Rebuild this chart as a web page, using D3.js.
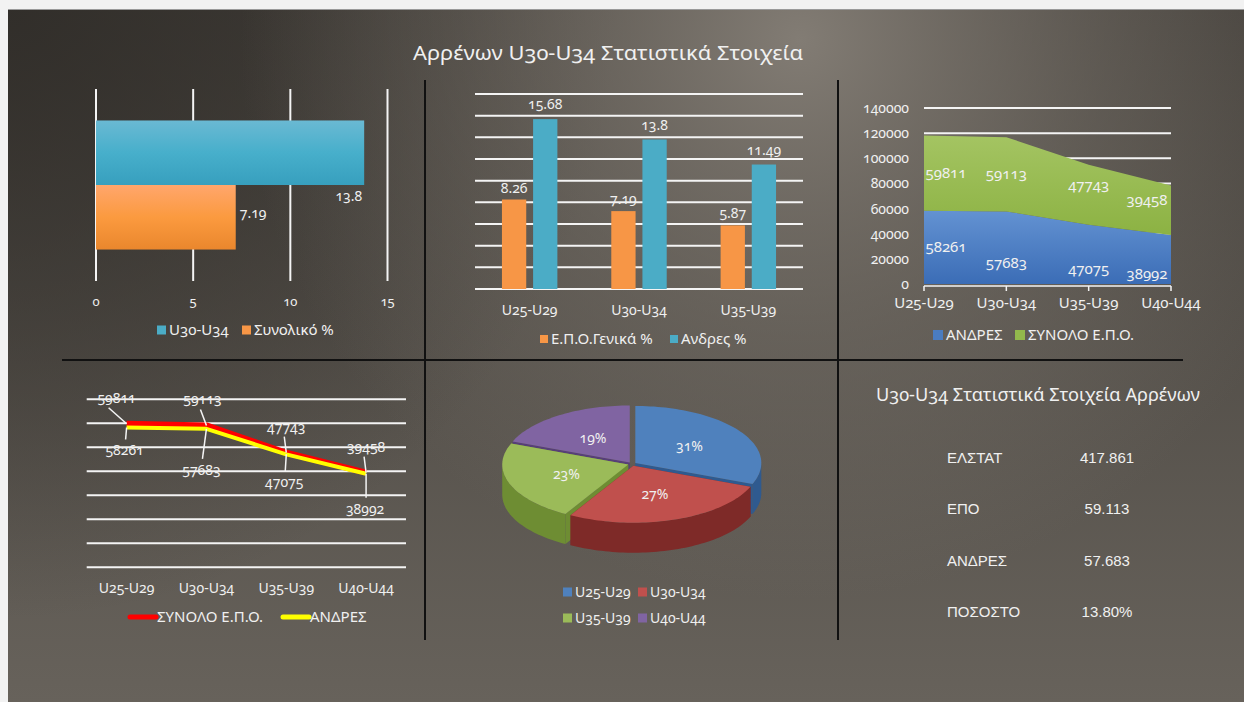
<!DOCTYPE html>
<html><head><meta charset="utf-8">
<script src="https://cdn.jsdelivr.net/npm/d3@7"></script>
<style>
body{margin:0;background:#f2f2f2;}
svg{display:block;}
text{font-family:"Noto Sans",sans-serif;fill:#f0f0f0;font-feature-settings:"onum" 1;}
text.tbl{font-family:"Liberation Sans",Arial,sans-serif;font-feature-settings:normal;}
</style></head><body><svg id="c" width="1244" height="702"></svg>
<script>
// ---------- DATA ----------
const mainTitle = "Αρρένων U30-U34 Στατιστικά Στοιχεία";
// chart 1 (horizontal bars)
const c1Series = ["U30-U34", "Συνολικό %"];
const c1Values = [13.8, 7.19];
const c1Ticks = [0, 5, 10, 15];
// chart 2 (clustered columns)
const c2Categories = ["U25-U29", "U30-U34", "U35-U39"];
const c2Series = ["Ε.Π.Ο.Γενικά %", "Ανδρες %"];
const c2Epo = [8.26, 7.19, 5.87];
const c2Andres = [15.68, 13.8, 11.49];
// charts 3 & 4
const ageGroups = ["U25-U29", "U30-U34", "U35-U39", "U40-U44"];
const andres = [58261, 57683, 47075, 38992];
const synolo = [59811, 59113, 47743, 39458];
const c3Ticks = [0, 20000, 40000, 60000, 80000, 100000, 120000, 140000];
const c4Ticks = [0, 10000, 20000, 30000, 40000, 50000, 60000, 70000];
// chart 5 (pie)
const pieValues = [15.68, 13.8, 11.49, 9.6];
// table
const tblTitle = "U30-U34 Στατιστικά Στοιχεία Αρρένων";
const tblLabels = ["ΕΛΣΤΑΤ", "ΕΠΟ", "ΑΝΔΡΕΣ", "ΠΟΣΟΣΤΟ"];
const tblValues = ["417.861", "59.113", "57.683", "13.80%"];

// ---------- SETUP ----------
const svg = d3.select("#c");
const defs = svg.append("defs");
function lin(id, stops, x2 = 0, y2 = 1) {
  const g = defs.append("linearGradient").attr("id", id).attr("x1", 0).attr("y1", 0).attr("x2", x2).attr("y2", y2);
  stops.forEach(([o, c, op]) => g.append("stop").attr("offset", o).attr("stop-color", c).attr("stop-opacity", op == null ? 1 : op));
}
function rad(id, cx, cy, r, stops) {
  const g = defs.append("radialGradient").attr("id", id).attr("gradientUnits", "userSpaceOnUse")
    .attr("cx", cx).attr("cy", cy).attr("r", r);
  stops.forEach(([o, c, op]) => g.append("stop").attr("offset", o).attr("stop-color", c).attr("stop-opacity", op == null ? 1 : op));
}
lin("bgLin", [[0, "#433f3a"], [1, "#67625b"]]);
rad("bgHi", 800, 40, 560, [[0, "#827c74", 1], [0.55, "#7a746c", 0.45], [1, "#7a746c", 0]]);
rad("bgDark", 0, 0, 620, [[0, "#2f2c28", 0.9], [1, "#2f2c28", 0]]);
lin("barBlue", [[0, "#6ab9d3"], [0.5, "#47afcb"], [1, "#379fbe"]]);
lin("barOrange", [[0, "#ffa66c"], [0.5, "#fb9a3f"], [1, "#ea872d"]]);
lin("areaBlue", [[0, "#6392d2"], [1, "#3b6db6"]]);
lin("areaGreen", [[0, "#a4c462"], [1, "#8cb243"]]);

svg.append("rect").attr("x", 8).attr("y", 9).attr("width", 1236).attr("height", 693).attr("fill", "url(#bgLin)");
svg.append("rect").attr("x", 8).attr("y", 9).attr("width", 1236).attr("height", 693).attr("fill", "url(#bgDark)");
svg.append("rect").attr("x", 8).attr("y", 9).attr("width", 1236).attr("height", 693).attr("fill", "url(#bgHi)");
svg.append("line").attr("x1", 8).attr("x2", 1244).attr("y1", 9.5).attr("y2", 9.5).attr("stroke", "#9a9a9a").attr("stroke-width", 1);

// main title
svg.append("text").attr("x", 608).attr("y", 60).attr("text-anchor", "middle")
  .attr("font-size", 20).attr("textLength", 390).attr("lengthAdjust", "spacingAndGlyphs").text(mainTitle);

// dividers
svg.append("line").attr("x1", 425).attr("x2", 425).attr("y1", 80).attr("y2", 640).attr("stroke", "#111").attr("stroke-width", 2);
svg.append("line").attr("x1", 838).attr("x2", 838).attr("y1", 80).attr("y2", 640).attr("stroke", "#111").attr("stroke-width", 2);
svg.append("line").attr("x1", 62).attr("x2", 1183).attr("y1", 360).attr("y2", 360).attr("stroke", "#111").attr("stroke-width", 2);

const grid = "#f4f4f4";
function legendSquare(g, x, y, color, label, size = 9, fs = 15) {
  g.append("rect").attr("x", x).attr("y", y - size / 2).attr("width", size).attr("height", size).attr("fill", color);
  g.append("text").attr("x", x + size + 3).attr("y", y + fs * 0.36).attr("font-size", fs).text(label);
}

// ---------- CHART 1 ----------
{
  const g = svg.append("g");
  const x = d3.scaleLinear().domain([0, 15]).range([96, 387.5]);
  const yOuter = d3.scaleBand().domain(["c"]).range([89, 281]).padding(0.196);
  const y = d3.scaleBand().domain(c1Series).range([yOuter("c"), yOuter("c") + yOuter.bandwidth()]);
  g.selectAll(".gl").data(c1Ticks).join("line").attr("x1", d => x(d)).attr("x2", d => x(d))
    .attr("y1", 89).attr("y2", 281).attr("stroke", grid).attr("stroke-width", 2);
  const fills = ["url(#barBlue)", "url(#barOrange)"];
  g.selectAll(".bar").data(c1Values).join("rect").attr("x", x(0)).attr("y", (d, i) => y(c1Series[i]))
    .attr("width", d => x(d) - x(0)).attr("height", y.bandwidth()).attr("fill", (d, i) => fills[i]);
  g.append("text").attr("x", x(c1Values[0]) - 2).attr("y", y(c1Series[0]) + y.bandwidth() + 16)
    .attr("text-anchor", "end").attr("font-size", 14).text(c1Values[0]);
  g.append("text").attr("x", x(c1Values[1]) + 4).attr("y", y(c1Series[1]) + y.bandwidth() / 2 + 1)
    .attr("font-size", 14).text(c1Values[1]);
  g.selectAll(".tk").data(c1Ticks).join("text").attr("x", d => x(d)).attr("y", 306).attr("text-anchor", "middle")
    .attr("font-size", 13).text(d => d);
  legendSquare(g, 157, 330, "#4bacc6", c1Series[0]);
  legendSquare(g, 242, 330, "#f79646", c1Series[1]);
}

// ---------- CHART 2 ----------
{
  const g = svg.append("g");
  const x0 = d3.scaleBand().domain(c2Categories).range([475, 803]).paddingInner(0.493).paddingOuter(0.2465);
  const x1 = d3.scaleBand().domain(c2Series).range([0, x0.bandwidth()]).paddingInner(0.22);
  const y = d3.scaleLinear().domain([0, 18]).range([289, 94]);
  g.selectAll(".gl").data(d3.range(0, 19, 2)).join("line").attr("x1", 475).attr("x2", 803)
    .attr("y1", d => y(d)).attr("y2", d => y(d)).attr("stroke", grid).attr("stroke-width", 2);
  const series = [c2Epo, c2Andres];
  const cols = ["#f79646", "#4bacc6"];
  series.forEach((vals, s) => {
    g.selectAll(".b" + s).data(vals).join("rect")
      .attr("x", (d, i) => x0(c2Categories[i]) + x1(c2Series[s])).attr("y", d => y(d))
      .attr("width", x1.bandwidth()).attr("height", d => y(0) - y(d)).attr("fill", cols[s]);
    g.selectAll(".l" + s).data(vals).join("text")
      .attr("x", (d, i) => x0(c2Categories[i]) + x1(c2Series[s]) + x1.bandwidth() / 2)
      .attr("y", d => y(d) - (s === 0 ? 7 : 10)).attr("text-anchor", "middle").attr("font-size", 14).text(d => d);
  });
  g.selectAll(".cat").data(c2Categories).join("text").attr("x", d => x0(d) + x0.bandwidth() / 2)
    .attr("y", 315).attr("text-anchor", "middle").attr("font-size", 14).text(d => d);
  legendSquare(g, 540, 339, cols[0], c2Series[0], 8);
  legendSquare(g, 670, 339, cols[1], c2Series[1], 8);
}

// ---------- CHART 3 ----------
{
  const g = svg.append("g");
  const x = d3.scalePoint().domain(ageGroups).range([924, 1171]);
  const y = d3.scaleLinear().domain([0, 140000]).range([284, 108]);
  g.selectAll(".gl").data(c3Ticks.slice(1)).join("line").attr("x1", 924).attr("x2", 1171)
    .attr("y1", d => y(d)).attr("y2", d => y(d)).attr("stroke", grid).attr("stroke-width", 2);
  const rows = ageGroups.map((k, i) => ({ k, andres: andres[i], synolo: synolo[i] }));
  const stack = d3.stack().keys(["andres", "synolo"])(rows);
  const area = d3.area().x(d => x(d.data.k)).y0(d => y(d[0])).y1(d => y(d[1]));
  const fills = ["url(#areaBlue)", "url(#areaGreen)"];
  g.selectAll(".ar").data(stack).join("path").attr("d", area).attr("fill", (d, i) => fills[i]);
  g.append("line").attr("x1", 924).attr("x2", 1171).attr("y1", y(0) + 2).attr("y2", y(0) + 2).attr("stroke", grid).attr("stroke-width", 1.5);
  g.selectAll(".tm").data(ageGroups).join("line").attr("x1", d => x(d)).attr("x2", d => x(d))
    .attr("y1", y(0) + 2).attr("y2", y(0) + 7).attr("stroke", grid).attr("stroke-width", 1.5);
  g.selectAll(".yt").data(c3Ticks).join("text").attr("x", 909).attr("y", d => y(d) + 5)
    .attr("text-anchor", "end").attr("font-size", 14).text(d => d);
  g.selectAll(".cat").data(ageGroups).join("text").attr("x", d => x(d)).attr("y", 308)
    .attr("text-anchor", "middle").attr("font-size", 15).text(d => d);
  const n = ageGroups.length;
  stack.forEach((layer, s) => {
    g.selectAll(".al" + s).data(layer).join("text")
      .attr("x", (d, i) => x(d.data.k) + (i === 0 ? 22 : i === n - 1 ? -24 : 0))
      .attr("y", (d, i) => (y(d[0]) + y(d[1])) / 2 + 5 + (s === 0 && i > 0 ? 15 : s === 1 && i > 1 ? -10 : 0))
      .attr("text-anchor", "middle").attr("font-size", 15).text(d => d[1] - d[0]);
  });
  legendSquare(g, 933, 335, "#4a7cc0", "ΑΝΔΡΕΣ", 10);
  legendSquare(g, 1015, 335, "#92b94c", "ΣΥΝΟΛΟ Ε.Π.Ο.", 10);
}

// ---------- CHART 4 ----------
{
  const g = svg.append("g");
  const x = d3.scaleBand().domain(ageGroups).range([86.7, 406]);
  const y = d3.scaleLinear().domain([0, 70000]).range([567.3, 399.3]);
  g.selectAll(".gl").data(c4Ticks).join("line").attr("x1", 86.7).attr("x2", 406)
    .attr("y1", d => y(d)).attr("y2", d => y(d)).attr("stroke", grid).attr("stroke-width", 2);
  const cx = k => x(k) + x.bandwidth() / 2;
  const line = d3.line().x((d, i) => cx(ageGroups[i])).y(d => y(d));
  g.append("path").attr("d", line(synolo)).attr("fill", "none").attr("stroke", "#ff0000").attr("stroke-width", 6).attr("stroke-linejoin", "round");
  g.append("path").attr("d", line(andres)).attr("fill", "none").attr("stroke", "#ffff00").attr("stroke-width", 4).attr("stroke-linejoin", "round");
  synolo.forEach((v, i) => {
    const px = cx(ageGroups[i]), py = y(v);
    const lx = px + (i === 0 ? -10 : i === 1 ? -4 : 0), ly = py - 22;
    g.append("line").attr("x1", px).attr("y1", py).attr("x2", lx - (i === 0 ? 8 : 2)).attr("y2", ly + 6).attr("stroke", grid).attr("stroke-width", 1.5);
    g.append("text").attr("x", lx).attr("y", ly + 1).attr("text-anchor", "middle").attr("font-size", 14).text(v);
  });
  andres.forEach((v, i) => {
    const px = cx(ageGroups[i]), py = y(v);
    const lx = px + (i === 1 ? -5 : i === 3 ? -1 : -2), ly = py + (i === 0 ? 24 : i === 1 ? 42 : i === 2 ? 29 : 36);
    g.append("line").attr("x1", px).attr("y1", py).attr("x2", lx + 1).attr("y2", ly - 12).attr("stroke", grid).attr("stroke-width", 1.5);
    g.append("text").attr("x", lx).attr("y", ly + 4).attr("text-anchor", "middle").attr("font-size", 14).text(v);
  });
  g.selectAll(".cat").data(ageGroups).join("text").attr("x", d => cx(d)).attr("y", 593)
    .attr("text-anchor", "middle").attr("font-size", 14).text(d => d);
  g.append("line").attr("x1", 130).attr("x2", 156).attr("y1", 617).attr("y2", 617).attr("stroke", "#ff0000").attr("stroke-width", 5).attr("stroke-linecap", "round");
  g.append("text").attr("x", 157).attr("y", 622).attr("font-size", 15).text("ΣΥΝΟΛΟ Ε.Π.Ο.");
  g.append("line").attr("x1", 283).attr("x2", 309).attr("y1", 617).attr("y2", 617).attr("stroke", "#ffff00").attr("stroke-width", 5).attr("stroke-linecap", "round");
  g.append("text").attr("x", 310).attr("y", 622).attr("font-size", 15).text("ΑΝΔΡΕΣ");
}

// ---------- CHART 5 (3D pie) ----------
{
  const g = svg.append("g");
  const cx = 632, cy = 464, rx = 126, ry = 57, depth = 30, ex = 4;
  const tops = ["#4f81bd", "#c0504d", "#9bbb59", "#8064a2"];
  const sides = ["#2f5a8f", "#7e2a28", "#6e8d33", "#573f78"];
  const arcs = d3.pie().sort(null).value(d => d)(pieValues);
  const P = (a, ox, oy, dz = 0, r = 1) => [cx + ox + r * rx * Math.sin(a), cy + oy - r * ry * Math.cos(a) + dz];
  const info = arcs.map((a, i) => {
    const m = (a.startAngle + a.endAngle) / 2;
    return { a, i, m, ox: ex * Math.sin(m), oy: -ex * Math.cos(m) * ry / rx };
  });
  const order = info.slice().sort((p, q) => -Math.cos(p.m) - -Math.cos(q.m));
  const arcPts = (a0, a1, ox, oy, dz) => {
    const n = Math.max(2, Math.ceil((a1 - a0) / 0.03));
    return d3.range(n + 1).map(k => P(a0 + (a1 - a0) * k / n, ox, oy, dz));
  };
  order.forEach(s => {
    const { a, i, ox, oy } = s;
    const c = [cx + ox, cy + oy];
    [a.startAngle, a.endAngle].forEach(ang => {
      const p = P(ang, ox, oy);
      const pts = [c, p, [p[0], p[1] + depth], [c[0], c[1] + depth]];
      g.append("path").attr("d", d3.line()(pts) + "Z").attr("fill", sides[i]);
    });
    const s0 = Math.max(a.startAngle, Math.PI / 2), s1 = Math.min(a.endAngle, 3 * Math.PI / 2);
    if (s1 > s0) {
      const top = arcPts(s0, s1, ox, oy, 0);
      const bot = arcPts(s0, s1, ox, oy, depth).reverse();
      g.append("path").attr("d", d3.line()(top.concat(bot)) + "Z").attr("fill", sides[i]);
    }
  });
  info.forEach(s => {
    const { a, i, ox, oy } = s;
    const pts = [[cx + ox, cy + oy]].concat(arcPts(a.startAngle, a.endAngle, ox, oy, 0));
    g.append("path").attr("d", d3.line()(pts) + "Z").attr("fill", tops[i]);
  });
  const fmt = d3.format(".0%");
  const tot = d3.sum(pieValues);
  info.forEach(s => {
    const p = P(s.m, s.ox, s.oy, 0, 0.52);
    g.append("text").attr("x", p[0]).attr("y", p[1] + 5).attr("text-anchor", "middle").attr("font-size", 14)
      .text(fmt(pieValues[s.i] / tot));
  });
  const lp = [[563, 592], [638, 592], [563, 618], [638, 618]];
  ageGroups.forEach((n, i) => legendSquare(g, lp[i][0], lp[i][1], tops[i], n, 9, 14));
}

// ---------- TABLE ----------
{
  const g = svg.append("g");
  g.append("text").attr("x", 876).attr("y", 401).attr("font-size", 18).attr("textLength", 324)
    .attr("lengthAdjust", "spacingAndGlyphs").text(tblTitle);
  const y = d3.scalePoint().domain(tblLabels).range([457.5, 611.5]);
  g.selectAll(".tl").data(tblLabels).join("text").attr("class", "tbl").attr("x", 947).attr("y", d => y(d) + 5.5)
    .attr("font-size", 15).text(d => d);
  g.selectAll(".tv").data(tblValues).join("text").attr("class", "tbl").attr("x", 1107).attr("y", (d, i) => y(tblLabels[i]) + 5.5)
    .attr("text-anchor", "middle").attr("font-size", 15).text(d => d);
}
</script></body></html>
